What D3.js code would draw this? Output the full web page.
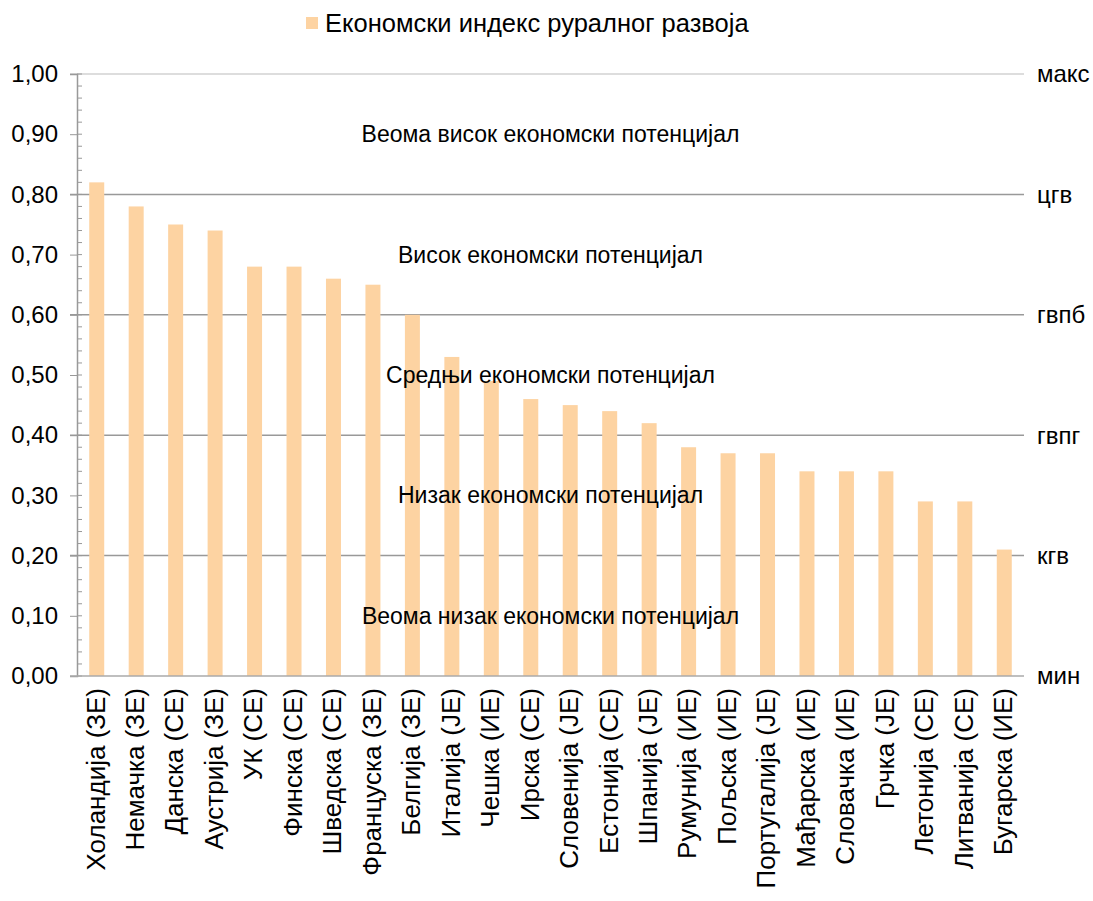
<!DOCTYPE html>
<html>
<head>
<meta charset="utf-8">
<script src="https://cdn.jsdelivr.net/npm/d3@7"></script>
<style>
    body { margin: 0; background: #fff; }
    text { font-family: "Liberation Sans", Arial, sans-serif; fill: #000; }
</style>
</head>
<body>
<div id="chart"></div>
<script>
var countries = ["Холандија (ЗЕ)", "Немачка (ЗЕ)", "Данска (СЕ)", "Аустрија (ЗЕ)", "УК (СЕ)", "Финска (СЕ)",
    "Шведска (СЕ)", "Француска (ЗЕ)", "Белгија (ЗЕ)", "Италија (ЈЕ)", "Чешка (ИЕ)", "Ирска (СЕ)",
    "Словенија (ЈЕ)", "Естонија (СЕ)", "Шпанија (ЈЕ)", "Румунија (ИЕ)", "Пољска (ИЕ)", "Португалија (ЈЕ)",
    "Мађарска (ИЕ)", "Словачка (ИЕ)", "Грчка (ЈЕ)", "Летонија (СЕ)", "Литванија (СЕ)", "Бугарска (ИЕ)"];
var values = [0.82, 0.78, 0.75, 0.74, 0.68, 0.68, 0.66, 0.65, 0.60, 0.53, 0.49, 0.46,
    0.45, 0.44, 0.42, 0.38, 0.37, 0.37, 0.34, 0.34, 0.34, 0.29, 0.29, 0.21];
var yTicks = [0, 0.1, 0.2, 0.3, 0.4, 0.5, 0.6, 0.7, 0.8, 0.9, 1.0];
var thresholds = [0, 0.2, 0.4, 0.6, 0.8, 1.0];
var thresholdLabels = ["мин", "кгв", "гвпг", "гвпб", "цгв", "макс"];
var zoneLabels = ["Веома низак економски потенцијал", "Низак економски потенцијал",
    "Средњи економски потенцијал", "Висок економски потенцијал", "Веома висок економски потенцијал"];
var zoneLevels = [0.1, 0.3, 0.5, 0.7, 0.9];
var seriesName = "Економски индекс руралног развоја";

var width = 1093, height = 901;
var margin = { left: 77, right: 69, top: 74, bottom: 225 };
var w = width - margin.left - margin.right;
var h = height - margin.top - margin.bottom;
var barColor = "#fdd3a2";

var svg = d3.select("#chart").append("svg")
    .attr("width", width)
    .attr("height", height);

var g = svg.append("g")
    .attr("transform", "translate(" + margin.left + "," + margin.top + ")");

var xScale = d3.scaleBand()
    .domain(countries)
    .range([0, w])
    .paddingInner(0.62)
    .paddingOuter(0.31);

var yScale = d3.scaleLinear()
    .domain([0, 1])
    .range([h, 0]);

// grid lines at thresholds
g.selectAll(".grid")
    .data(thresholds.filter(function (d) { return d > 0; }))
    .enter().append("line")
    .attr("class", "grid")
    .attr("x1", -7)
    .attr("x2", w)
    .attr("y1", function (d) { return yScale(d); })
    .attr("y2", function (d) { return yScale(d); })
    .attr("stroke", function (d) { return d === 1 ? "#bbb" : "#999"; })
    .attr("stroke-width", function (d) { return d === 1 ? 1 : 1.5; });

// bars
g.selectAll("rect")
    .data(values)
    .enter().append("rect")
    .attr("x", function (d, i) { return xScale(countries[i]); })
    .attr("y", function (d) { return yScale(d); })
    .attr("width", xScale.bandwidth())
    .attr("height", function (d) { return h - yScale(d); })
    .attr("fill", barColor);

// minor ticks
var minor = d3.range(0, 1.0001, 0.02);
g.selectAll(".minor")
    .data(minor)
    .enter().append("line")
    .attr("x1", 0)
    .attr("x2", 5)
    .attr("y1", function (d) { return yScale(d); })
    .attr("y2", function (d) { return yScale(d); })
    .attr("stroke", "#999");

// y axis
var yAxis = g.append("g")
    .call(d3.axisLeft(yScale)
        .tickValues(yTicks)
        .tickSize(7)
        .tickPadding(12)
        .tickFormat(function (d) { return d3.format(".2f")(d).replace(".", ","); }));
yAxis.select(".domain").attr("stroke", "#999").attr("stroke-width", 1.5);
yAxis.selectAll(".tick line").attr("stroke", "#999");
yAxis.selectAll("text").style("font-size", "24px").style("font-family", "Liberation Sans, Arial, sans-serif");

// baseline
g.append("line")
    .attr("x1", -7).attr("x2", w)
    .attr("y1", h).attr("y2", h)
    .attr("stroke", "#aaa")
    .attr("stroke-width", 1.5);

// x axis labels
var xAxis = g.append("g")
    .attr("transform", "translate(0," + h + ")")
    .call(d3.axisBottom(xScale).tickSize(0).tickPadding(0));
xAxis.select(".domain").remove();
xAxis.selectAll("text")
    .attr("transform", "rotate(-90)")
    .attr("x", -12)
    .attr("y", 0)
    .attr("dy", "0.3em")
    .style("text-anchor", "end")
    .style("font-size", "26px")
    .style("font-family", "Liberation Sans, Arial, sans-serif");

// zone labels
g.selectAll(".zone")
    .data(zoneLabels)
    .enter().append("text")
    .attr("class", "zone")
    .attr("x", w / 2)
    .attr("y", function (d, i) { return yScale(zoneLevels[i]); })
    .attr("dy", "0.35em")
    .attr("text-anchor", "middle")
    .style("font-size", "23px")
    .text(function (d) { return d; });

// right threshold labels
g.selectAll(".thr")
    .data(thresholdLabels)
    .enter().append("text")
    .attr("class", "thr")
    .attr("x", w + 13)
    .attr("y", function (d, i) { return yScale(thresholds[i]); })
    .attr("dy", "0.35em")
    .style("font-size", "24px")
    .text(function (d) { return d; });

// legend
var legend = svg.append("g").attr("transform", "translate(306,17)");
legend.append("rect")
    .attr("width", 12).attr("height", 12)
    .attr("fill", barColor);
legend.append("text")
    .attr("x", 19)
    .attr("y", 6)
    .attr("dy", "0.35em")
    .style("font-size", "25.5px")
    .text(seriesName);
</script>
</body>
</html>
